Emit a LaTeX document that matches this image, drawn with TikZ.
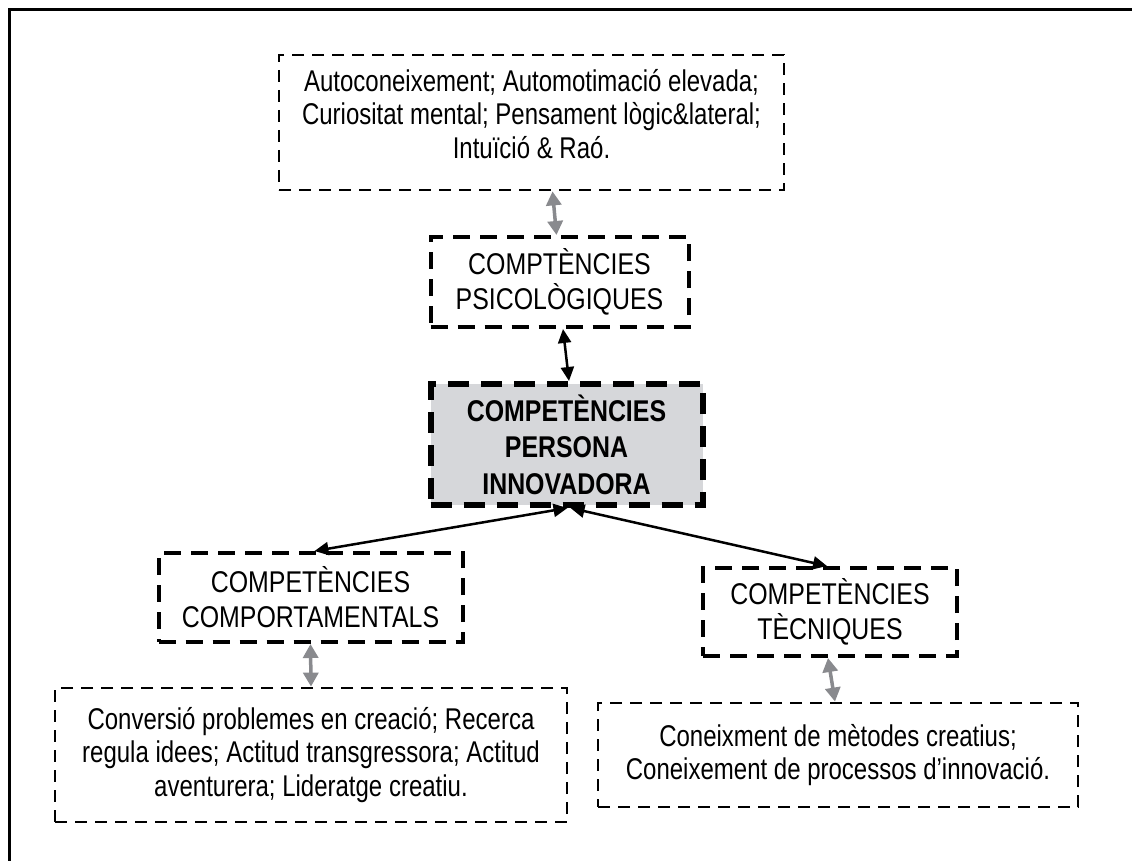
\documentclass[tikz,border=0pt]{standalone}
\usepackage{fontspec}
\setmainfont{Liberation Sans}[FakeStretch=0.8]
\newfontfamily\capsfont{Liberation Sans}[FakeStretch=0.83]
\usetikzlibrary{arrows.meta}
\definecolor{linkgray}{RGB}{137,138,142}
\definecolor{corefill}{RGB}{214,215,218}

\begin{document}
\begin{tikzpicture}[x=1pt,y=-1pt,
  txt/.style={font=\fontsize{30}{33.5}\selectfont, align=center, inner sep=0pt},
  thinbox/.style={txt, draw, line width=2.8pt, dash pattern=on 12pt off 8pt},
  midbox/.style={txt, draw, line width=4pt, dash pattern=on 17pt off 10pt,
    font=\fontsize{30}{35}\selectfont\capsfont},
  corebox/.style={txt, draw, fill=corefill, line width=6pt,
    dash pattern=on 21pt off 12pt, font=\fontsize{30}{36.5}\selectfont\capsfont\bfseries},
  link/.style={line width=2.5pt,
    {Triangle[length=14pt,width=13pt]}-{Triangle[length=14pt,width=13pt]}},
  glink/.style={draw=linkgray, line width=3.5pt,
    {Triangle[length=14pt,width=15pt]}-{Triangle[length=14pt,width=15pt]}}
]
\useasboundingbox (0,0) rectangle (1132,861);
\fill[white] (0,0) rectangle (1132,861);

% page frame (left and top edges)
\draw[line width=3pt] (9.5,861) -- (9.5,9.5) -- (1132,9.5);

% competence boxes
\node[thinbox, minimum width=505pt, minimum height=135pt] (psyitems) at (531.5,122.5)
  {Autoconeixement; Automotimació elevada;\\Curiositat mental; Pensament lògic\&lateral;\\Intuïció \& Raó.\rule[-18pt]{0pt}{18pt}};

\node[midbox, minimum width=258pt, minimum height=90pt] (psy) at (559.5,282)
  {COMPTÈNCIES\\PSICOLÒGIQUES};

\node[corebox, minimum width=272pt, minimum height=121pt] (core) at (566.5,444.5)
  {COMPETÈNCIES\\PERSONA\\INNOVADORA};

\node[midbox, minimum width=304pt, minimum height=89pt] (beh) at (310.5,597.5)
  {COMPETÈNCIES\\COMPORTAMENTALS};

\node[midbox, minimum width=254pt, minimum height=88pt] (tec) at (830,612)
  {COMPETÈNCIES\\TÈCNIQUES};

\node[thinbox, minimum width=512pt, minimum height=134pt] (behitems) at (311,755)
  {Conversió problemes en creació; Recerca\\regula idees; Actitud transgressora; Actitud\\aventurera; Lideratge creatiu.};

\node[thinbox, minimum width=480pt, minimum height=104pt] (tecitems) at (838,755)
  {Coneixment de mètodes creatius;\\Coneixement de processos d’innovació.};

% connectors
\draw[glink] ([xshift=21pt]psyitems.south) -- ([xshift=-3pt]psy.north);
\draw[link] ([xshift=3.5pt]psy.south) -- ([xshift=2.5pt]core.north);
\draw[link] ([xshift=1pt]core.south) -- ([xshift=4pt]beh.north);
\draw[link] ([xshift=4pt]core.south) -- ([xshift=-3pt]tec.north);
\draw[glink] (beh.south) -- (behitems.north);
\draw[glink] ([xshift=-2pt]tec.south) -- ([xshift=-3pt]tecitems.north);
\end{tikzpicture}
\end{document}
